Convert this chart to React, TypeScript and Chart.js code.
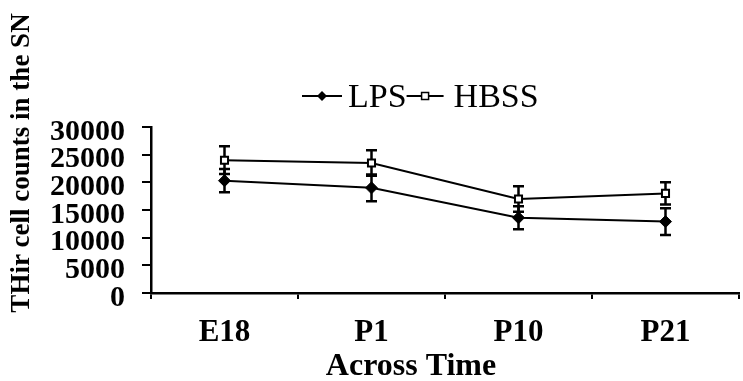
import { useEffect, useRef } from "react";
import { Chart, registerables } from "chart.js";

Chart.register(...registerables);

// Time points and THir cell counts (mean ± error) for each treatment group
const categories = ["E18", "P1", "P10", "P21"];
const lpsValues = [20300, 19000, 13600, 12900];
const lpsErrors = [2100, 2400, 2100, 2400];
const hbssValues = [24000, 23500, 17000, 18000];
const hbssErrors = [2500, 2300, 2300, 2000];
const yTickValues = [0, 5000, 10000, 15000, 20000, 25000, 30000];
const yAxisTitle = "THir cell counts in the SN";
const xAxisTitle = "Across Time";

const SERIF = "'Liberation Serif', 'Times New Roman', serif";

// Vertical error bars with caps, drawn from each dataset's `errors` array
const errorBarPlugin = {
  id: "errorBars",
  beforeDatasetsDraw(chart: any) {
    const { ctx } = chart;
    const yScale = chart.scales.y;
    ctx.save();
    ctx.strokeStyle = "#000";
    ctx.lineWidth = 2.5;
    chart.data.datasets.forEach((ds: any, di: number) => {
      const meta = chart.getDatasetMeta(di);
      (ds.errors || []).forEach((err: number, i: number) => {
        const pt = meta.data[i];
        if (!pt) return;
        const v = ds.data[i] as number;
        const yTop = yScale.getPixelForValue(v + err);
        const yBot = yScale.getPixelForValue(v - err);
        const x = pt.x;
        const cap = 5.5;
        ctx.beginPath();
        ctx.moveTo(x, yTop);
        ctx.lineTo(x, yBot);
        ctx.moveTo(x - cap, yTop);
        ctx.lineTo(x + cap, yTop);
        ctx.moveTo(x - cap, yBot);
        ctx.lineTo(x + cap, yBot);
        ctx.stroke();
      });
    });
    ctx.restore();
  },
};

// Axis titles and the line-with-marker legend above the plot
const annotationPlugin = {
  id: "annotations",
  afterDraw(chart: any) {
    const { ctx } = chart;
    ctx.save();
    ctx.fillStyle = "#000";

    // y-axis title, rotated
    ctx.save();
    ctx.translate(22, 163);
    ctx.rotate(-Math.PI / 2);
    ctx.font = `bold 27px ${SERIF}`;
    ctx.textAlign = "center";
    ctx.textBaseline = "middle";
    ctx.fillText(yAxisTitle, 0, 0);
    ctx.restore();

    // x-axis title
    ctx.font = `bold 32px ${SERIF}`;
    ctx.textAlign = "center";
    ctx.textBaseline = "middle";
    ctx.fillText(xAxisTitle, 411, 367);

    // legend: short line with the series marker, then the label
    const legendY = 96;
    let x = 302;
    ctx.font = `34px ${SERIF}`;
    ctx.textAlign = "left";
    chart.data.datasets.forEach((ds: any, i: number) => {
      const len = i === 0 ? 40 : 37;
      ctx.strokeStyle = "#000";
      ctx.lineWidth = 2;
      ctx.beginPath();
      ctx.moveTo(x, legendY);
      ctx.lineTo(x + len, legendY);
      ctx.stroke();
      const cx = x + len / 2;
      if (ds.pointStyle === "rectRot") {
        const r = 5;
        ctx.beginPath();
        ctx.moveTo(cx, legendY - r);
        ctx.lineTo(cx + r, legendY);
        ctx.lineTo(cx, legendY + r);
        ctx.lineTo(cx - r, legendY);
        ctx.closePath();
        ctx.fillStyle = "#000";
        ctx.fill();
      } else {
        const h = 3.5;
        ctx.fillStyle = "#fff";
        ctx.fillRect(cx - h, legendY - h, 2 * h, 2 * h);
        ctx.lineWidth = 1.5;
        ctx.strokeRect(cx - h, legendY - h, 2 * h, 2 * h);
      }
      ctx.fillStyle = "#000";
      const tx = x + len + (i === 0 ? 6 : 10);
      ctx.fillText(ds.label, tx, legendY + 2);
      x = tx + ctx.measureText(ds.label).width;
    });
    ctx.restore();
  },
};

export default function App() {
  const canvasRef = useRef<HTMLCanvasElement | null>(null);

  useEffect(() => {
    const canvas = canvasRef.current;
    if (!canvas) return;
    const chart = new Chart(canvas, {
      type: "line",
      data: {
        labels: categories,
        datasets: [
          {
            label: "LPS",
            data: lpsValues,
            errors: lpsErrors,
            borderColor: "#000",
            borderWidth: 2,
            backgroundColor: "#000",
            pointStyle: "rectRot",
            pointRadius: 6,
            pointBorderWidth: 1,
            pointBorderColor: "#000",
            pointBackgroundColor: "#000",
            tension: 0,
          } as any,
          {
            label: "HBSS",
            data: hbssValues,
            errors: hbssErrors,
            borderColor: "#000",
            borderWidth: 2,
            backgroundColor: "#fff",
            pointStyle: "rect",
            pointRadius: 5,
            pointBorderWidth: 2,
            pointBorderColor: "#000",
            pointBackgroundColor: "#fff",
            tension: 0,
          } as any,
        ],
      },
      options: {
        responsive: false,
        animation: false,
        devicePixelRatio: 1,
        layout: { padding: { top: 127, left: 0, right: 0, bottom: 0 } },
        plugins: {
          legend: { display: false },
          tooltip: { enabled: false },
        },
        scales: {
          x: {
            type: "category",
            offset: true,
            grid: {
              offset: true,
              drawOnChartArea: false,
              tickLength: 6,
              color: "#000",
              lineWidth: 2,
            },
            border: { color: "#000", width: 2.5 },
            ticks: {
              color: "#000",
              font: { family: SERIF, size: 31, weight: "bold" },
              padding: 15,
              maxRotation: 0,
            },
            afterFit(scale: any) {
              scale.height = 88;
            },
          },
          y: {
            min: 0,
            max: 30000,
            afterBuildTicks(scale: any) {
              scale.ticks = yTickValues.map((v) => ({ value: v }));
            },
            grid: {
              drawOnChartArea: false,
              tickLength: 9,
              color: "#000",
              lineWidth: 2,
            },
            border: { color: "#000", width: 2.5 },
            ticks: {
              color: "#000",
              font: { family: SERIF, size: 30, weight: "bold", lineHeight: 0.9 },
              padding: 17,
              labelOffset: 5,
              autoSkip: false,
              callback: (v: any) => String(v),
            },
            afterFit(scale: any) {
              scale.width = 151;
            },
          },
        },
      } as any,
      plugins: [errorBarPlugin, annotationPlugin],
    });
    return () => chart.destroy();
  }, []);

  return (
    <div
      style={{
        position: "fixed",
        left: 0,
        top: 0,
        width: 743,
        height: 381,
        overflow: "hidden",
        background: "#fff",
      }}
    >
      <canvas ref={canvasRef} width={746} height={381} style={{ display: "block" }} />
    </div>
  );
}
